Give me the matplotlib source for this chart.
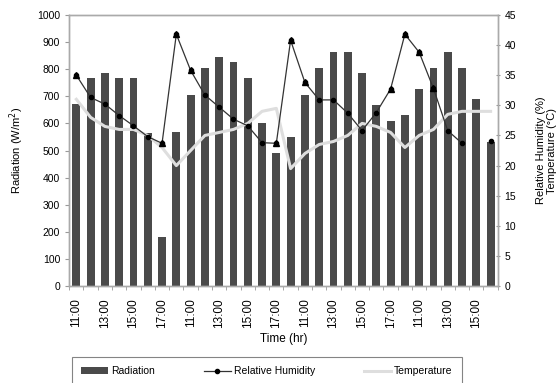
import numpy as np
import matplotlib
matplotlib.use("Agg")
import matplotlib.pyplot as plt

plt.rcParams['font.family'] = ['Liberation Sans', 'DejaVu Sans']

# hourly readings, 11:00-18:00 on three days, 11:00-16:00 on the fourth
hours = [11, 12, 13, 14, 15, 16, 17, 18] * 3 + [11, 12, 13, 14, 15, 16]
time_labels = ["%d:00" % h for h in hours]

radiation = [670, 766, 787, 766, 766, 566, 180, 567, 705, 806,
             846, 825, 766, 603, 492, 551, 705, 806, 862, 862,
             787, 668, 609, 631, 727, 806, 862, 806, 689, 530]

humidity = [35, 31.3, 30.2, 28.3, 26.6, 24.8, 23.7, 41.8, 35.8, 31.7,
            29.7, 27.7, 26.6, 23.8, 23.7, 40.8, 33.8, 30.9, 30.9, 28.7,
            25.8, 28.8, 32.7, 41.8, 38.8, 32.8, 25.8, 23.7, np.nan, 24.0]

temperature = [31, 28, 26.5, 26, 26, 25, 23, 20, 22.5, 25,
               25.5, 26, 27, 29, 29.5, 19.5, 22, 23.5, 24, 25,
               27, 26.5, 25.5, 23, 25, 26, 28.5, 29, 29, 29]

# points drawn with a triangle instead of the small dot
triangle_idx = [0, 6, 7, 8, 14, 15, 16, 22, 23, 24, 25]

x = np.arange(len(radiation))

fig = plt.figure(figsize=(5.58, 3.83), dpi=100)
ax = fig.add_axes([0.124, 0.253, 0.768, 0.708])
ax2 = ax.twinx()

bars = ax.bar(x, radiation, width=0.55, color='#4a4a4a', zorder=2, label='Radiation')
ax.set_xlim(-0.5, len(x) - 0.5)
ax.set_ylim(0, 1000)
ax.set_yticks(range(0, 1001, 100))
ax.set_xticks(x[::2])
ax.set_xticklabels(time_labels[::2], rotation=90, fontsize=8.5)
ax.set_xticks(np.arange(-0.5, len(x), 1), minor=True)
ax.tick_params(axis='x', which='major', length=0, pad=9)
ax.tick_params(axis='x', which='minor', length=3, color='#999999')
ax.tick_params(axis='y', labelsize=7.5, length=3, color='#999999')
ax.set_ylabel('Radiation (W/m$^2$)', fontsize=8, labelpad=8)
ax.set_xlabel('Time (hr)', fontsize=8.5, labelpad=3)

t_line, = ax2.plot(x, temperature, color='#dedede', lw=2.2, zorder=3, label='Temperature')
h_line, = ax2.plot(x, humidity, color='#333333', lw=0.9, marker='o', ms=3,
                   mfc='black', mec='black', zorder=4, label='Relative Humidity')
ax2.plot(x, humidity, ls='none', marker='^', ms=5, color='black',
         markevery=triangle_idx, zorder=5)
ax2.set_ylim(0, 45)
ax2.set_yticks(range(0, 46, 5))
ax2.tick_params(axis='y', labelsize=7.5, length=3, color='#999999', direction='inout')
ax2.set_ylabel('Relative Humidity (%)\nTemperature (°C)', fontsize=8, labelpad=14)

for a in (ax, ax2):
    for s in a.spines.values():
        s.set_color('#aaaaaa')
        s.set_linewidth(1)

leg = fig.legend([bars, h_line, t_line], ['Radiation', 'Relative Humidity', 'Temperature'],
                 loc='upper left', bbox_to_anchor=(72 / 558, 0.068 - 0.09, 390 / 558, 0.09),
                 mode='expand', ncol=3, fontsize=7.5,
                 frameon=True, fancybox=False, edgecolor='#666666',
                 handlelength=2.6, handletextpad=0.3, borderpad=0.9, borderaxespad=0)
leg.get_frame().set_linewidth(0.8)

fig.savefig('out.png', dpi=100)
